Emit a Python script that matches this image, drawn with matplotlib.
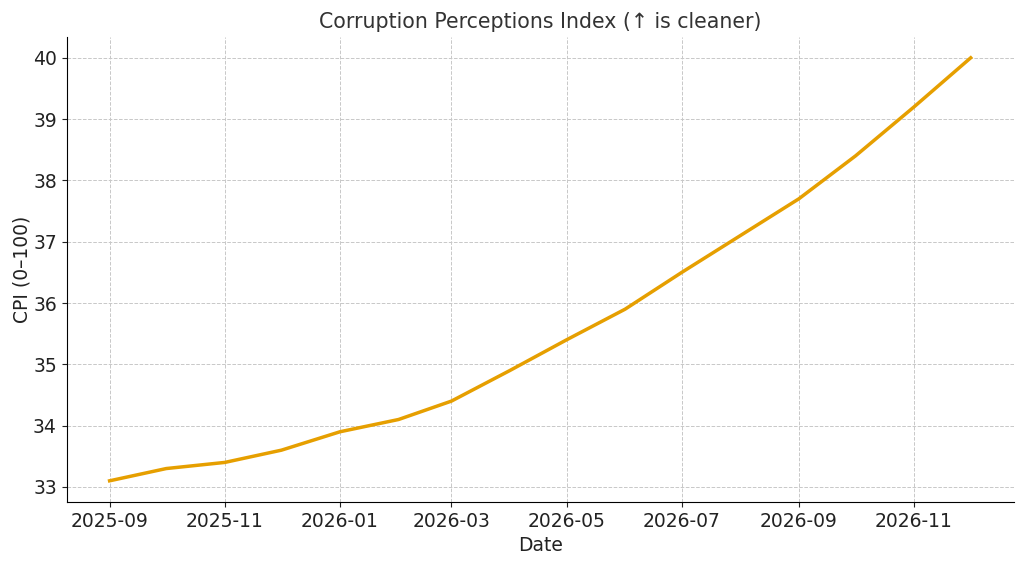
import matplotlib
matplotlib.use("Agg")
import matplotlib.pyplot as plt
import matplotlib.dates as mdates
import pandas as pd

# monthly CPI values
dates = pd.date_range("2025-09-01", "2026-12-01", freq="MS")
cpi = [33.1, 33.3, 33.4, 33.6, 33.9, 34.1, 34.4, 34.9,
       35.4, 35.9, 36.5, 37.1, 37.7, 38.4, 39.2, 40.0]

plt.rcParams['font.family'] = ['DejaVu Sans']

fig, ax = plt.subplots(figsize=(10.24, 5.64), dpi=100)
ax.plot(dates, cpi, color="#E69F00", linewidth=2.5)

ax.set_title("Corruption Perceptions Index (\u2191 is cleaner)", fontsize=14.8, color="#333333")
ax.set_xlabel("Date", fontsize=13.5, color="#222222")
ax.set_ylabel("CPI (0\u2013100)", fontsize=13.5, color="#222222", labelpad=1)

ax.xaxis.set_major_locator(mdates.MonthLocator(bymonth=[1, 3, 5, 7, 9, 11]))
ax.xaxis.set_major_formatter(mdates.DateFormatter("%Y-%m"))
ax.tick_params(labelsize=13.5, colors="#222222")

ax.grid(True, linestyle="--", linewidth=0.7, color="#c8c8c8")
ax.spines["top"].set_visible(False)
ax.spines["right"].set_visible(False)

fig.subplots_adjust(left=0.065, right=0.99, top=0.935, bottom=0.11)
fig.savefig("out.png", dpi=100)
